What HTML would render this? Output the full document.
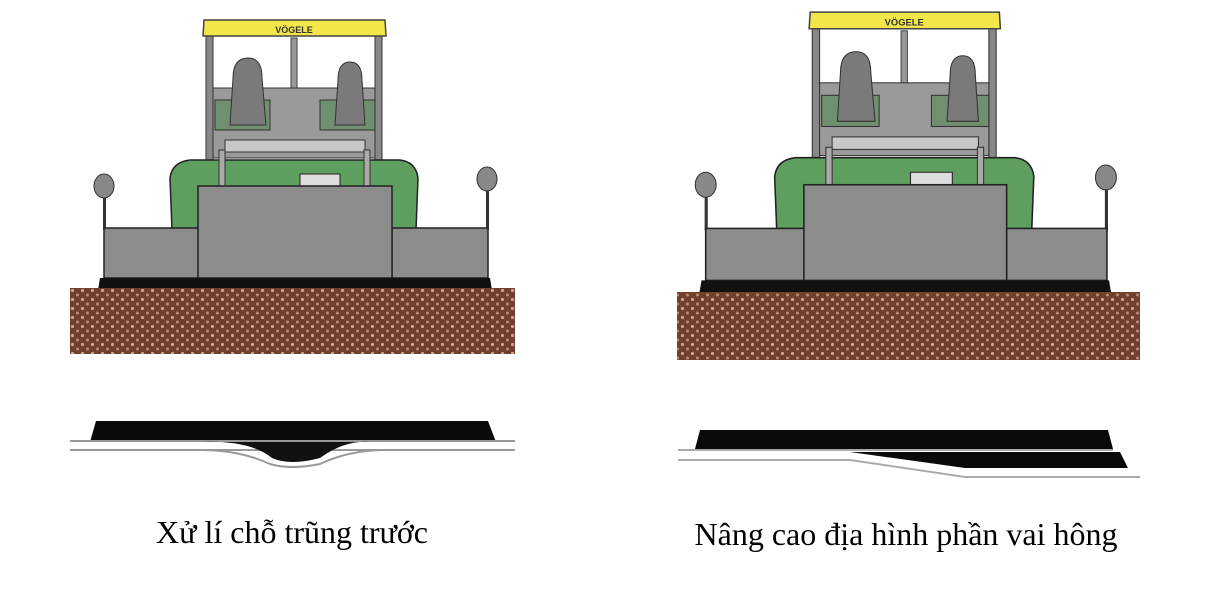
<!DOCTYPE html>
<html><head><meta charset="utf-8"><style>
html,body{margin:0;padding:0;background:#fff;width:1220px;height:596px;overflow:hidden}
.cap{position:absolute;font-family:"Liberation Serif",serif;font-size:32px;line-height:36px;color:#000;white-space:nowrap;transform:translateX(-50%)}
</style></head><body>
<svg width="1220" height="596" style="position:absolute;left:0;top:0">
<defs>
<pattern id="soil" width="10" height="9" patternUnits="userSpaceOnUse">
<rect width="10" height="9" fill="#70402c"/>
<circle cx="2.5" cy="2.5" r="1.6" fill="#c9a58e"/>
<circle cx="7.5" cy="7" r="1.5" fill="#b88d74"/>
</pattern>
<g id="paver">
<rect x="206" y="36" width="7" height="140" fill="#888" stroke="#333" stroke-width="1"/>
<rect x="375" y="36" width="7" height="140" fill="#888" stroke="#333" stroke-width="1"/>
<rect x="291" y="38" width="6" height="100" fill="#999" stroke="#444" stroke-width="1"/>
<path d="M204 20 L385 20 L386 36 L203 36 Z" fill="#f2e64a" stroke="#444" stroke-width="1.5"/>
<text x="294" y="33" font-family="Liberation Sans,sans-serif" font-size="9" font-weight="bold" text-anchor="middle" fill="#333">VÖGELE</text>
<rect x="213" y="88" width="162" height="70" fill="#9a9a9a" stroke="#333"/>
<rect x="215" y="100" width="55" height="30" fill="#6f8f6f" stroke="#333"/>
<rect x="320" y="100" width="55" height="30" fill="#6f8f6f" stroke="#333"/>
<rect x="225" y="140" width="140" height="12" fill="#c8c8c8" stroke="#333"/>
<path d="M233 78 Q233 58 248 58 Q262 58 262 78 L266 125 L230 125 Z" fill="#7a7a7a" stroke="#333"/>
<path d="M338 80 Q338 62 350 62 Q362 62 362 80 L365 125 L335 125 Z" fill="#7a7a7a" stroke="#333"/>
<path d="M172 230 L170 178 Q172 162 190 160 L400 160 Q416 162 418 178 L416 230 Z" fill="#5e9e5e" stroke="#222" stroke-width="1.5"/>
<rect x="300" y="174" width="40" height="12" fill="#ddd" stroke="#222"/>
<rect x="219" y="150" width="6" height="36" fill="#aaa" stroke="#333"/>
<rect x="364" y="150" width="6" height="36" fill="#aaa" stroke="#333"/>
<rect x="103" y="190" width="3" height="40" fill="#333"/>
<ellipse cx="104" cy="186" rx="10" ry="12" fill="#888" stroke="#333"/>
<rect x="486" y="188" width="3" height="42" fill="#333"/>
<ellipse cx="487" cy="179" rx="10" ry="12" fill="#888" stroke="#333"/>
<rect x="104" y="228" width="95" height="50" fill="#8c8c8c" stroke="#222" stroke-width="1.5"/>
<rect x="392" y="228" width="96" height="50" fill="#8c8c8c" stroke="#222" stroke-width="1.5"/>
<rect x="198" y="186" width="194" height="92" fill="#8c8c8c" stroke="#222" stroke-width="1.5"/>
<path d="M100 278 L490 278 L492 290 L98 290 Z" fill="#111"/>
</g>
</defs>

<use href="#paver"/>
<rect x="70" y="288" width="445" height="66" fill="url(#soil)"/>
<path d="M96 421 L488 421 L496 442 L90 442 Z" fill="#0a0a0a"/>
<line x1="70" y1="441" x2="515" y2="441" stroke="#999" stroke-width="2"/>
<line x1="70" y1="450" x2="515" y2="450" stroke="#999" stroke-width="2"/>
<path d="M200 442 Q250 440 272 458 Q290 466 320 458 Q345 440 370 442 Z" fill="#111"/>
<path d="M200 450 Q240 450 270 464 Q290 470 320 464 Q350 450 385 450" fill="none" stroke="#999" stroke-width="2"/>

<g transform="translate(597,-8.7) scale(1.045,1.04)"><use href="#paver"/></g>
<rect x="677" y="292" width="463" height="68" fill="url(#soil)"/>
<path d="M700 430 L1108 430 L1113 449 L695 449 Z" fill="#0a0a0a"/>
<line x1="678" y1="450" x2="1113" y2="450" stroke="#aaa" stroke-width="2"/>
<line x1="678" y1="460" x2="850" y2="460" stroke="#aaa" stroke-width="2"/>
<path d="M850 452 L1120 452 L1128 468 L965 468 Z" fill="#0a0a0a"/>
<path d="M850 460 L965 477 L1140 477" fill="none" stroke="#aaa" stroke-width="2"/>
</svg>
<div class="cap" style="left:292px;top:514px">Xử lí chỗ trũng trước</div>
<div class="cap" style="left:906px;top:516px">Nâng cao địa hình phần vai hông</div>
</body></html>
